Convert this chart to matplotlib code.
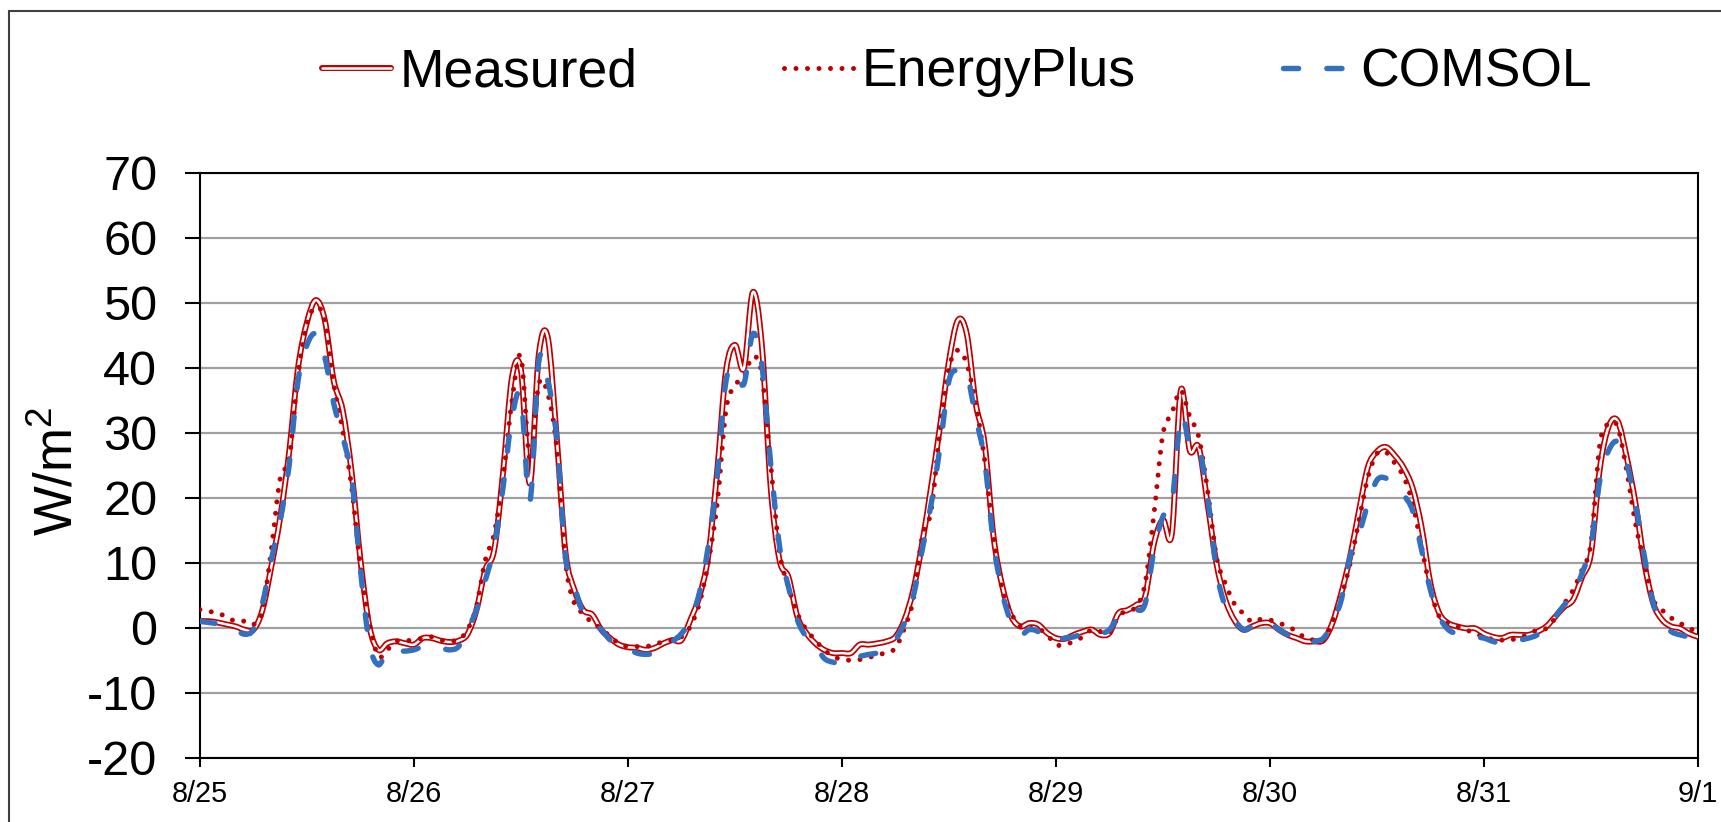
import numpy as np
import matplotlib
matplotlib.use("Agg")
import matplotlib.pyplot as plt
import matplotlib.patheffects as pe
from matplotlib.lines import Line2D
from matplotlib.patches import Rectangle, PathPatch
from matplotlib.path import Path

plt.rcParams['font.family'] = ['Liberation Sans', 'DejaVu Sans']
plt.rcParams['mathtext.default'] = 'regular'
plt.rcParams['axes.unicode_minus'] = False

# hourly values, 8/25 00:00 -> 9/1 00:00 (W/m2)
measured = [
    1.0, 1.0, 0.8, 0.5, 0.2, -0.3, -0.3, 2.7, 9.4, 17.0, 27.0, 40.0,
    47.0, 50.4, 47.3, 38.0, 33.5, 24.0, 10.4, 0.2, -3.4, -2.4, -2.1, -2.4,
    -2.6, -1.6, -1.6, -2.0, -2.2, -2.0, -1.0, 2.7, 8.9, 12.0, 24.0, 38.6,
    39.6, 22.2, 42.0, 44.7, 29.4, 11.5, 5.8, 2.7, 2.0, -0.3, -1.6, -2.6,
    -3.0, -3.1, -3.4, -3.1, -2.4, -1.9, -1.9, 1.2, 4.8, 11.0, 24.0, 39.6,
    43.5, 39.9, 51.6, 43.7, 21.7, 10.4, 7.8, 1.7, -0.8, -2.4, -3.4, -3.9,
    -3.9, -3.9, -2.6, -2.6, -2.4, -2.1, -1.4, 1.2, 5.8, 13.0, 21.7, 31.0,
    41.0, 47.3, 45.2, 34.5, 28.3, 14.0, 6.3, 1.7, 0.2, 0.7, 0.5, -0.8,
    -1.6, -1.7, -1.1, -0.6, -0.3, -1.1, -0.8, 2.2, 2.7, 3.5, 4.8, 13.0,
    16.6, 14.5, 36.5, 27.3, 27.8, 19.1, 9.9, 4.3, 1.2, -0.3, 0.2, 0.7,
    0.7, -0.3, -1.1, -1.6, -2.1, -2.1, -1.9, 0.7, 5.3, 11.0, 18.1, 24.8,
    27.1, 27.8, 26.5, 24.6, 21.5, 15.5, 6.8, 2.2, 0.7, 0.2, -0.1, -0.1,
    -0.9, -1.4, -1.6, -1.1, -1.1, -1.1, -0.6, 0.2, 1.7, 3.2, 4.3, 7.8,
    11.4, 24.5, 31.0, 31.8, 26.3, 19.1, 9.9, 3.7, 1.2, 0.2, -0.1, -0.9,
    -1.4,
]
energyplus = [
    2.8, 2.5, 2.3, 1.6, 1.0, 1.0, 0.5, 2.5, 12.0, 23.0, 26.0, 39.0,
    46.8, 49.3, 47.3, 37.5, 30.4, 21.7, 9.4, 0.7, -4.4, -3.4, -2.1, -2.0,
    -1.9, -1.6, -1.4, -1.9, -2.0, -1.9, -0.3, 3.2, 10.4, 14.5, 23.2, 35.0,
    41.7, 26.0, 37.5, 36.0, 27.8, 10.0, 3.7, 2.2, 0.7, -0.1, -1.4, -2.4,
    -2.9, -2.9, -2.9, -2.6, -2.1, -1.9, -1.4, 0.2, 3.7, 10.0, 19.0, 33.5,
    37.3, 38.6, 41.7, 39.1, 25.3, 11.6, 6.3, 2.2, -0.3, -1.9, -3.4, -4.4,
    -4.9, -5.0, -4.9, -4.6, -4.1, -3.9, -3.1, -0.1, 4.3, 14.0, 18.0, 30.4,
    40.0, 42.7, 40.6, 34.5, 25.8, 14.0, 5.8, 2.2, 0.2, -0.1, -0.1, -1.1,
    -2.6, -2.6, -2.1, -1.4, -0.3, -0.6, -0.8, 1.7, 2.7, 3.2, 6.8, 17.6,
    29.8, 33.0, 36.5, 32.5, 29.4, 21.2, 10.9, 6.8, 3.7, 2.2, 0.9, 1.3,
    1.2, 0.7, 0.2, -0.6, -1.6, -1.9, -1.9, 0.9, 4.8, 9.9, 16.6, 23.2,
    26.8, 27.0, 25.3, 23.2, 19.1, 12.5, 5.8, 1.7, 0.7, 0.2, -0.3, -0.9,
    -1.4, -1.8, -1.9, -1.9, -1.4, -1.1, -0.3, -0.1, 1.5, 3.7, 5.8, 8.9,
    13.0, 28.3, 31.4, 30.9, 24.2, 16.0, 9.9, 4.3, 2.7, 1.5, 0.7, -0.1,
    -0.6,
]
comsol = [
    1.0, 0.8, 0.6, 0.2, -0.3, -1.0, -0.3, 3.7, 10.5, 16.5, 25.0, 38.0,
    43.5, 45.2, 41.6, 34.5, 29.4, 23.2, 8.9, -2.4, -5.7, -3.6, -3.6, -3.6,
    -3.4, -2.9, -2.9, -3.1, -3.4, -2.9, -0.3, 2.7, 7.3, 12.5, 21.7, 32.4,
    35.5, 19.5, 41.0, 38.0, 29.4, 10.9, 6.3, 2.2, 0.7, -0.3, -1.9, -2.9,
    -3.2, -3.9, -4.1, -3.9, -3.1, -2.1, -0.9, 1.2, 5.3, 12.5, 23.2, 38.0,
    39.6, 37.5, 45.2, 40.6, 25.3, 12.5, 6.3, 1.2, -1.4, -2.6, -4.7, -5.3,
    -5.4, -4.6, -4.4, -4.1, -3.9, -3.4, -1.9, 0.7, 4.8, 12.0, 19.0, 27.8,
    38.0, 39.6, 39.0, 32.4, 25.8, 13.0, 5.3, 0.7, -1.1, -0.3, -0.6, -1.9,
    -1.9, -1.6, -1.4, -0.9, -0.9, -0.9, -0.3, 1.7, 2.7, 2.7, 3.7, 12.0,
    17.1, 19.0, 32.4, 28.3, 27.8, 20.2, 8.9, 3.2, 1.2, -0.3, 0.2, 1.0,
    0.7, -0.3, -1.1, -1.9, -2.4, -2.1, -1.6, 0.7, 4.3, 11.0, 14.5, 19.1,
    22.7, 23.0, 21.8, 20.4, 18.0, 12.0, 5.8, 1.7, -0.3, -0.9, -1.1, -1.4,
    -1.6, -2.1, -2.4, -2.1, -1.9, -1.6, -1.1, -0.1, 1.7, 3.5, 5.0, 8.4,
    12.5, 22.7, 27.3, 28.6, 25.3, 19.1, 10.9, 3.7, 0.7, -0.6, -1.1, -1.4,
    -1.6,
]
day_labels = ["8/25", "8/26", "8/27", "8/28", "8/29", "8/30", "8/31", "9/1"]

RED = "#C00000"
BLUE = "#3370C0"

t = np.arange(len(measured)) / 24.0  # days since 8/25


def smooth_path(x, y):
    """Excel-style smoothed line: cubic Bezier segments through every point."""
    p = np.column_stack([x, y])
    q = np.vstack([p[0], p, p[-1]])
    verts, codes = [p[0]], [Path.MOVETO]
    for i in range(len(p) - 1):
        p0, p1, p2, p3 = q[i], q[i + 1], q[i + 2], q[i + 3]
        verts += [p1 + (p2 - p0) / 6, p2 - (p3 - p1) / 6, p2]
        codes += [Path.CURVE4] * 3
    return Path(verts, codes)


# double line: white core with red outline
double_line = [pe.Stroke(linewidth=4.3, foreground=RED, capstyle="round", joinstyle="round"),
               pe.Normal()]
ep_dash = (0, (0.001, 2.3))
cs_dash = (0, (2.8, 5.2))

fig = plt.figure(figsize=(17.21, 8.22), dpi=100)
ax = fig.add_axes([0.1162, 0.0782, 0.8704, 0.7117])

ax.add_patch(PathPatch(smooth_path(t, measured), fill=False, edgecolor="white", lw=1.8,
                       capstyle="round", joinstyle="round", path_effects=double_line, zorder=3))
ax.add_patch(PathPatch(smooth_path(t, energyplus), fill=False, edgecolor=RED, lw=3.6,
                       linestyle=ep_dash, capstyle="round", zorder=4))
ax.add_patch(PathPatch(smooth_path(t, comsol), fill=False, edgecolor=BLUE, lw=3.9,
                       linestyle=cs_dash, capstyle="round", zorder=5))

ax.set_xlim(0, 7)
ax.set_ylim(-20, 70)
ax.set_xticks(range(8))
ax.set_xticklabels(day_labels)
ax.set_yticks(range(-20, 80, 10))
ax.yaxis.grid(True, color="#A0A0A0", lw=1.6)
ax.set_axisbelow(True)
for s in ax.spines.values():
    s.set_color("black")
    s.set_linewidth(1.5)
ax.tick_params(axis="y", length=10.8, width=1.5, pad=20, labelsize=35, direction="out")
ax.tick_params(axis="x", length=6.5, width=1.5, pad=9.7, labelsize=20.8, direction="out")

ax.set_ylabel("W/m$^2$", fontsize=38)
ax.yaxis.set_label_coords(-0.078, 0.49)

handles = [
    Line2D([], [], color="white", lw=1.8, solid_capstyle="round", path_effects=double_line),
    Line2D([], [], color=RED, lw=3.6, linestyle=ep_dash, dash_capstyle="round"),
    Line2D([], [], color=BLUE, lw=3.9, linestyle=cs_dash, dash_capstyle="round"),
]
fig.legend(handles, ["Measured", "EnergyPlus", "COMSOL"], loc="center",
           bbox_to_anchor=(0.556, 0.912), ncol=3, frameon=False, fontsize=38.5,
           handlelength=1.3, handletextpad=0.15, columnspacing=2.75)

# outer chart frame (cut off on the right and bottom)
fig.patches.append(Rectangle((9 / 1721, -0.05), 1.0, 1 - 11 / 822 + 0.05,
                             transform=fig.transFigure, fill=False,
                             edgecolor="#404040", lw=1.5))

fig.savefig("out.png", dpi=100)
plt.close(fig)
